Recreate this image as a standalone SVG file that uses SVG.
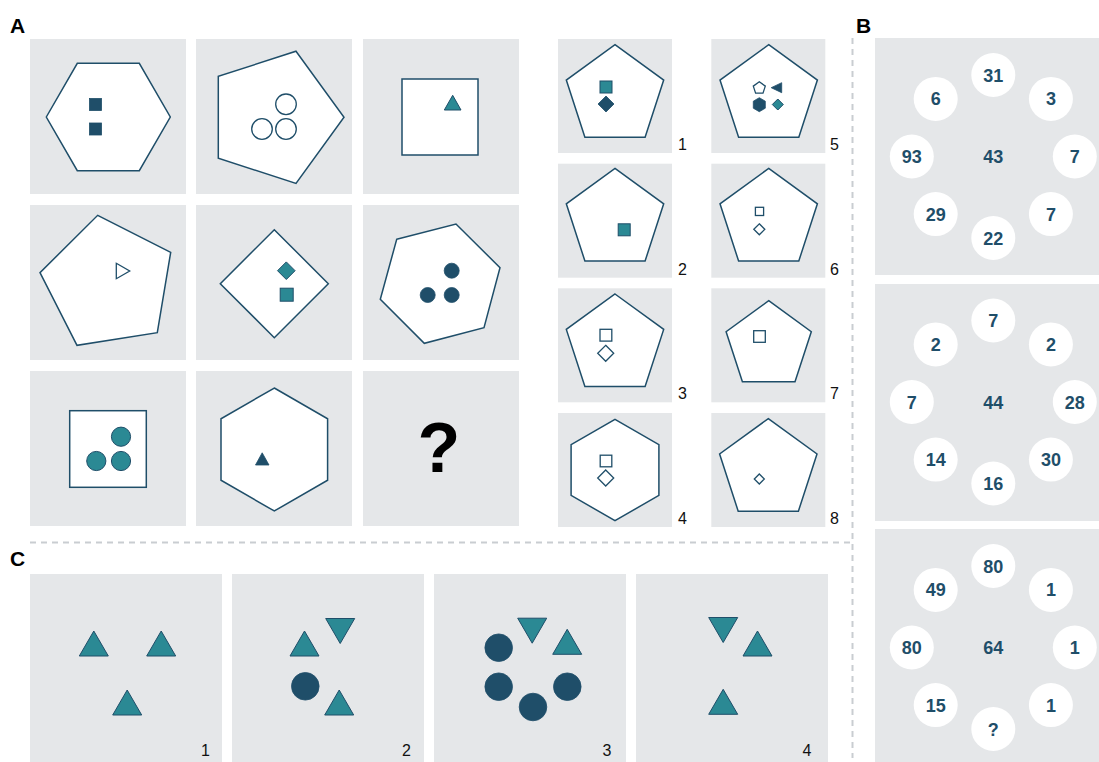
<svg xmlns="http://www.w3.org/2000/svg" xmlns:xlink="http://www.w3.org/1999/xlink" width="1099" height="762" viewBox="0 0 1099 762">
<style>
.bg{fill:#e5e7e9}
.sh{fill:#fff;stroke:#1f4e69;stroke-width:1.5;stroke-linejoin:miter}
.nv{fill:#1f4e69;stroke:#1f4e69;stroke-width:0.8}
.tl{fill:#2b8994;stroke:#1f4e69;stroke-width:1}
.ol{fill:#fff;stroke:#1f4e69;stroke-width:1.3}
.num{font-family:"Liberation Sans",Arial,sans-serif;font-size:16px;fill:#111}
.lab{font-family:"Liberation Sans",Arial,sans-serif;font-size:21px;font-weight:bold;fill:#000}
.bn{font-family:"Liberation Sans",Arial,sans-serif;font-weight:bold;font-size:18px;fill:#1f4e69;text-anchor:middle}
.dot{fill:#fff}
.sep{stroke:#c9cdd1;stroke-width:2;stroke-dasharray:6 5;fill:none}
</style>
<defs>
<path id="pent" d="M0,-51.2 L48.7,-15.8 L30.1,41.4 L-30.1,41.4 L-48.7,-15.8Z"/>
<path id="tu" d="M-14.5,12.5 L0,-12.5 L14.5,12.5Z"/>
<path id="td" d="M-14.5,-12.5 L0,12.5 L14.5,-12.5Z"/>
</defs>

<text class="lab" x="10" y="33">A</text>
<text class="lab" x="856" y="33">B</text>
<text class="lab" x="10" y="566">C</text>

<g id="separators">
<line class="sep" x1="30" y1="542.5" x2="850" y2="542.5"/>
<line class="sep" x1="852.5" y1="38" x2="852.5" y2="758"/>
</g>

<!-- Panel A matrix -->
<g id="a11">
<rect class="bg" x="30" y="39" width="156" height="155"/>
<polygon class="sh" points="46.3,117 77.3,63.3 139.3,63.3 170.3,117 139.3,170.7 77.3,170.7"/>
<rect class="nv" x="89.5" y="98.5" width="12" height="12"/>
<rect class="nv" x="89.5" y="123" width="12" height="12"/>
</g>
<g id="a12">
<rect class="bg" x="196" y="39" width="156" height="155"/>
<polygon class="sh" points="296,51.2 344,117.3 296,183.4 218.3,158.2 218.3,76.4"/>
<circle class="ol" cx="286" cy="104.3" r="10.3"/>
<circle class="ol" cx="262" cy="129" r="10.3"/>
<circle class="ol" cx="286" cy="129" r="10.3"/>
</g>
<g id="a13">
<rect class="bg" x="363" y="39" width="156" height="155"/>
<rect class="sh" x="402" y="79" width="76" height="76"/>
<polygon class="tl" points="444.3,110 452.7,95.3 461,110"/>
</g>
<g id="a21">
<rect class="bg" x="30" y="205" width="156" height="155"/>
<polygon class="sh" points="97.7,215.3 170.7,252.3 157.3,332.7 77,345.3 40,272.7"/>
<polygon class="ol" points="116.3,263.3 129.7,271 116.3,278.7"/>
</g>
<g id="a22">
<rect class="bg" x="196" y="205" width="156" height="155"/>
<polygon class="sh" points="274.3,229.7 328.3,283.7 274.3,337.7 220.3,283.7"/>
<polygon class="tl" points="286.3,261.9 295.1,270.7 286.3,279.5 277.5,270.7"/>
<rect class="tl" x="280.2" y="288.2" width="13" height="13"/>
</g>
<g id="a23">
<rect class="bg" x="363" y="205" width="156" height="155"/>
<polygon class="sh" points="396.7,239.3 456,224 500,267.7 484,327.7 424.3,343.3 380.3,299.3"/>
<circle class="nv" cx="451.7" cy="270.7" r="7.5"/>
<circle class="nv" cx="427.7" cy="295" r="7.5"/>
<circle class="nv" cx="451.7" cy="295" r="7.5"/>
</g>
<g id="a31">
<rect class="bg" x="30" y="371" width="156" height="155"/>
<rect class="sh" x="69.7" y="410.7" width="76.6" height="76.6"/>
<circle class="tl" cx="121" cy="436.7" r="9.6"/>
<circle class="tl" cx="96.3" cy="461" r="9.6"/>
<circle class="tl" cx="121" cy="461" r="9.6"/>
</g>
<g id="a32">
<rect class="bg" x="196" y="371" width="156" height="155"/>
<polygon class="sh" points="274.3,388 327.6,418.75 327.6,480.25 274.3,511 221,480.25 221,418.75"/>
<polygon class="nv" points="255.5,465 262.2,452.8 269,465"/>
</g>
<g id="a33">
<rect class="bg" x="363" y="371" width="156" height="155"/>
<text x="439" y="472" style="font-family:'Liberation Sans',Arial,sans-serif;font-weight:bold;font-size:70px;fill:#000;text-anchor:middle">?</text>
</g>

<!-- Answer options -->
<g id="opt1">
<rect class="bg" x="558" y="39" width="114" height="114"/>
<use href="#pent" class="sh" x="615" y="95.9"/>
<rect class="tl" x="600" y="81" width="12" height="12"/>
<polygon class="nv" points="606,96 614,104 606,112 598,104"/>
<text class="num" x="678" y="150">1</text>
</g>
<g id="opt2">
<rect class="bg" x="558" y="163.7" width="114" height="114"/>
<use href="#pent" class="sh" x="615" y="219.6"/>
<rect class="tl" x="618.2" y="223.8" width="12" height="12"/>
<text class="num" x="678" y="274.5">2</text>
</g>
<g id="opt3">
<rect class="bg" x="558" y="288.3" width="114" height="114"/>
<use href="#pent" class="sh" x="615" y="345.2"/>
<rect class="ol" x="600" y="329.3" width="11.8" height="11.8"/>
<polygon class="ol" points="605.7,345.3 613.7,353.3 605.7,361.3 597.7,353.3"/>
<text class="num" x="678" y="399">3</text>
</g>
<g id="opt4">
<rect class="bg" x="558" y="413" width="114" height="114"/>
<polygon class="sh" points="615,419.3 658.9,444.65 658.9,495.35 615,520.7 571.1,495.35 571.1,444.65"/>
<rect class="ol" x="600.2" y="455.2" width="11.6" height="11.6"/>
<polygon class="ol" points="605.7,470 613.7,478 605.7,486 597.7,478"/>
<text class="num" x="678" y="523.5">4</text>
</g>
<g id="opt5">
<rect class="bg" x="711.3" y="39" width="114" height="114"/>
<use href="#pent" class="sh" x="768.7" y="95.9"/>
<polygon class="ol" points="759.3,81.8 765.3,86.1 763,93.1 755.6,93.1 753.3,86.1"/>
<polygon class="nv" points="771.2,87.7 781.7,82.7 781.7,92.7"/>
<polygon class="nv" points="759.3,97.7 765.3,101.2 765.3,108.2 759.3,111.7 753.3,108.2 753.3,101.2"/>
<polygon class="tl" points="777.8,99 783.3,104.5 777.8,110 772.3,104.5"/>
<text class="num" x="830" y="150">5</text>
</g>
<g id="opt6">
<rect class="bg" x="711.3" y="163.7" width="114" height="114"/>
<use href="#pent" class="sh" x="768.7" y="219.6"/>
<rect class="ol" x="755.4" y="207.3" width="8.2" height="8.2"/>
<polygon class="ol" points="759.3,223.8 764.8,229.3 759.3,234.8 753.8,229.3"/>
<text class="num" x="830" y="274.5">6</text>
</g>
<g id="opt7">
<rect class="bg" x="711.3" y="288.3" width="114" height="114"/>
<polygon class="sh" points="768.7,300.7 811.3,331.7 795,381.7 742.4,381.7 726.1,331.7"/>
<rect class="ol" x="753.7" y="330.7" width="11.6" height="11.6"/>
<text class="num" x="830" y="399">7</text>
</g>
<g id="opt8">
<rect class="bg" x="711.3" y="413" width="114" height="114"/>
<use href="#pent" class="sh" x="768.3" y="469.8"/>
<polygon class="ol" points="759.3,474 764.3,479 759.3,484 754.3,479"/>
<text class="num" x="830" y="523.5">8</text>
</g>

<!-- Panel B -->
<g id="b1">
<rect class="bg" x="875" y="38" width="237" height="237"/>
<g transform="translate(993.3,156.5)">
<circle class="dot" cx="0" cy="-81.5" r="22"/><circle class="dot" cx="57.6" cy="-57.6" r="22"/>
<circle class="dot" cx="81.5" cy="0" r="22"/><circle class="dot" cx="57.6" cy="57.6" r="22"/>
<circle class="dot" cx="0" cy="81.5" r="22"/><circle class="dot" cx="-57.6" cy="57.6" r="22"/>
<circle class="dot" cx="-81.5" cy="0" r="22"/><circle class="dot" cx="-57.6" cy="-57.6" r="22"/>
<text class="bn" x="0" y="-75">31</text><text class="bn" x="57.6" y="-51.1">3</text>
<text class="bn" x="81.5" y="6.5">7</text><text class="bn" x="57.6" y="64.1">7</text>
<text class="bn" x="0" y="88">22</text><text class="bn" x="-57.6" y="64.1">29</text>
<text class="bn" x="-81.5" y="6.5">93</text><text class="bn" x="-57.6" y="-51.1">6</text>
<text class="bn" x="0" y="6.5">43</text>
</g>
</g>
<g id="b2">
<rect class="bg" x="875" y="284" width="237" height="237"/>
<g transform="translate(993.3,402)">
<circle class="dot" cx="0" cy="-81.5" r="22"/><circle class="dot" cx="57.6" cy="-57.6" r="22"/>
<circle class="dot" cx="81.5" cy="0" r="22"/><circle class="dot" cx="57.6" cy="57.6" r="22"/>
<circle class="dot" cx="0" cy="81.5" r="22"/><circle class="dot" cx="-57.6" cy="57.6" r="22"/>
<circle class="dot" cx="-81.5" cy="0" r="22"/><circle class="dot" cx="-57.6" cy="-57.6" r="22"/>
<text class="bn" x="0" y="-75">7</text><text class="bn" x="57.6" y="-51.1">2</text>
<text class="bn" x="81.5" y="6.5">28</text><text class="bn" x="57.6" y="64.1">30</text>
<text class="bn" x="0" y="88">16</text><text class="bn" x="-57.6" y="64.1">14</text>
<text class="bn" x="-81.5" y="6.5">7</text><text class="bn" x="-57.6" y="-51.1">2</text>
<text class="bn" x="0" y="6.5">44</text>
</g>
</g>
<g id="b3">
<rect class="bg" x="875" y="529" width="237" height="237"/>
<g transform="translate(993.3,647.5)">
<circle class="dot" cx="0" cy="-81.5" r="22"/><circle class="dot" cx="57.6" cy="-57.6" r="22"/>
<circle class="dot" cx="81.5" cy="0" r="22"/><circle class="dot" cx="57.6" cy="57.6" r="22"/>
<circle class="dot" cx="0" cy="81.5" r="22"/><circle class="dot" cx="-57.6" cy="57.6" r="22"/>
<circle class="dot" cx="-81.5" cy="0" r="22"/><circle class="dot" cx="-57.6" cy="-57.6" r="22"/>
<text class="bn" x="0" y="-75">80</text><text class="bn" x="57.6" y="-51.1">1</text>
<text class="bn" x="81.5" y="6.5">1</text><text class="bn" x="57.6" y="64.1">1</text>
<text class="bn" x="0" y="88">?</text><text class="bn" x="-57.6" y="64.1">15</text>
<text class="bn" x="-81.5" y="6.5">80</text><text class="bn" x="-57.6" y="-51.1">49</text>
<text class="bn" x="0" y="6.5">64</text>
</g>
</g>

<!-- Panel C -->
<g id="c1">
<rect class="bg" x="30" y="574" width="192" height="190"/>
<use href="#tu" class="tl" x="93.8" y="643.5"/>
<use href="#tu" class="tl" x="161.2" y="643.5"/>
<use href="#tu" class="tl" x="127.2" y="702.5"/>
<text class="num" x="201" y="756">1</text>
</g>
<g id="c2">
<rect class="bg" x="232" y="574" width="192" height="190"/>
<use href="#td" class="tl" x="340.2" y="631"/>
<use href="#tu" class="tl" x="304.5" y="643.5"/>
<circle class="nv" cx="305.3" cy="686.3" r="13.8"/>
<use href="#tu" class="tl" x="339.2" y="702.5"/>
<text class="num" x="402" y="756">2</text>
</g>
<g id="c3">
<rect class="bg" x="434" y="574" width="192" height="190"/>
<circle class="nv" cx="498.7" cy="647.7" r="13.8"/>
<circle class="nv" cx="498.7" cy="686.7" r="13.8"/>
<circle class="nv" cx="533" cy="707" r="13.8"/>
<circle class="nv" cx="567.3" cy="686.7" r="13.8"/>
<use href="#td" class="tl" x="532.2" y="630.7"/>
<use href="#tu" class="tl" x="567.2" y="641.8"/>
<text class="num" x="602.5" y="756">3</text>
</g>
<g id="c4">
<rect class="bg" x="636" y="574" width="192" height="190"/>
<use href="#td" class="tl" x="723.2" y="630"/>
<use href="#tu" class="tl" x="757.5" y="643.5"/>
<use href="#tu" class="tl" x="723.2" y="701.8"/>
<text class="num" x="802.5" y="756">4</text>
</g>
</svg>
